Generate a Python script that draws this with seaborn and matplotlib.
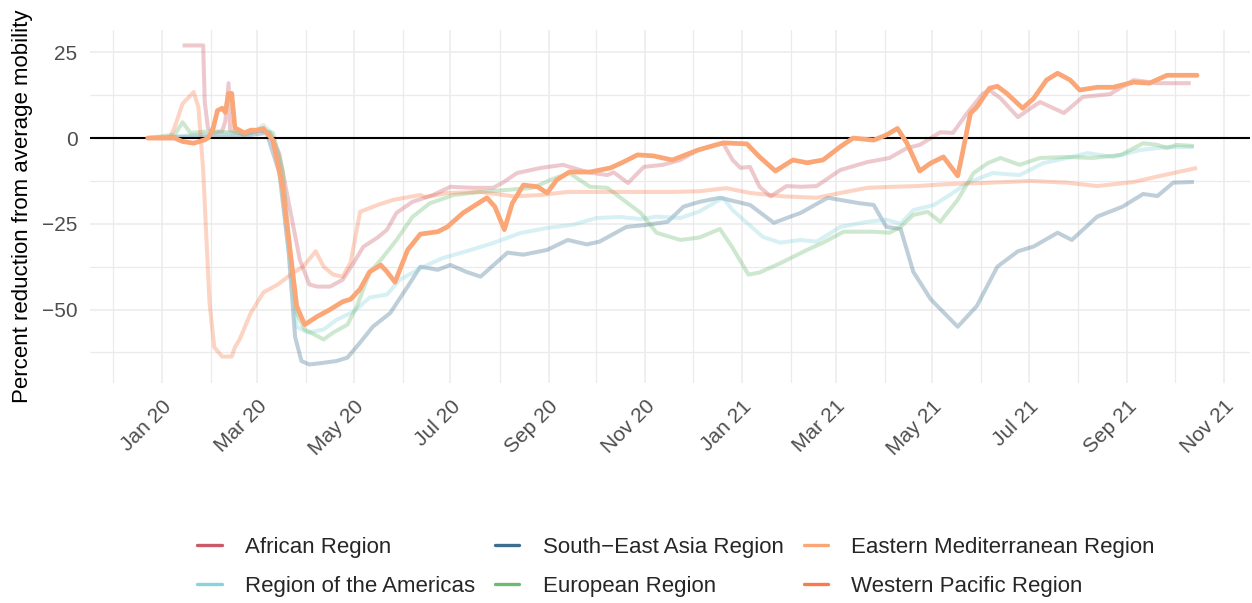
import numpy as np
import pandas as pd
import matplotlib
matplotlib.use("Agg")
import matplotlib.pyplot as plt
import matplotlib.dates as mdates
from matplotlib.lines import Line2D
from matplotlib.ticker import FixedLocator
import seaborn as sns

# ---------------- data (days since 2020-01-01, percent change) ----------------
start = pd.Timestamp("2020-01-01")

regions = ["African Region", "South\u2212East Asia Region", "Eastern Mediterranean Region",
           "Region of the Americas", "European Region", "Western Pacific Region"]
colors = ["#CB5A68", "#3B6E8F", "#FBA676", "#88D3DD", "#6CBB70", "#F97B4B"]
highlight = "Eastern Mediterranean Region"

afr_days = [13, 26, 27, 29, 33, 38, 40, 42, 43, 52, 62, 68, 74, 80, 87, 93, 98, 106, 114, 121, 127, 136,
            142, 148, 158, 171, 182, 196, 209, 215, 224, 239, 253, 268, 281, 285, 294, 304, 316, 327, 338,
            354, 360, 365, 371, 377, 384, 394, 403, 413, 428, 445, 459, 470, 478, 491, 499, 508, 518, 522,
            529, 540, 548, 554, 569, 581, 598, 613, 628, 649]
afr_vals = [27, 27, 10.5, 3, 1.5, 2, 5, 16, 2.3, 1, 2.3, 1.5, -4.5, -19, -35.5, -42.7, -43.3, -43.3, -41.3,
            -36.3, -31.7, -29, -26.7, -21.8, -18.6, -16.6, -14.2, -14.5, -14.5, -13, -10.2, -8.7, -7.8,
            -9.9, -10.8, -10, -13.1, -8.4, -7.8, -6.4, -3.5, -1.5, -6.4, -8.7, -8.4, -14.2, -17, -14, -14.2,
            -14, -9.3, -7, -5.8, -2.9, -2, 1.7, 1.5, 7.3, 13, 14, 11.6, 6.1, 8.7, 10.5, 7.3, 12, 12.8, 16.9,
            16, 16]

sea_days = [-9, 24, 49, 66, 74, 80, 84, 88, 93, 102, 110, 117, 125, 133, 144, 155, 163, 174, 182, 192, 201,
            218, 228, 243, 256, 268, 276, 293, 306, 319, 329, 339, 352, 371, 386, 403, 420, 440, 449, 457,
            466, 474, 485, 502, 514, 527, 540, 550, 565, 574, 590, 606, 619, 628, 638, 651]
sea_vals = [0, 0.5, 0.5, 1.5, -10, -33.5, -58, -65, -66, -65.5, -65, -64, -59.6, -55, -51, -43.3, -37.5,
            -38.4, -37, -39, -40.4, -33.4, -34, -32.6, -29.7, -31, -30.2, -25.9, -25.3, -24.4, -20, -18.6,
            -17.4, -19.5, -24.7, -21.8, -17.4, -19, -19.5, -25.9, -26.5, -39, -47, -55, -49, -37.5, -33,
            -31.6, -27.6, -29.7, -22.9, -20, -16.3, -16.9, -13, -12.8]

emr_days = [-9, 8, 13, 20, 27, 29, 32, 35, 38, 40, 42, 44, 46, 52, 56, 60, 64, 70, 76, 81, 85, 90, 98, 106,
            114, 119, 125, 131, 138, 142, 147, 155, 163, 174, 180, 190, 205, 210, 216, 221, 228, 237, 243,
            249, 257, 270, 283, 291, 300, 310, 322, 338, 354, 369, 377, 387, 398, 407, 417, 428, 436, 449,
            457, 464, 470, 478, 485, 493, 502, 505, 510, 514, 522, 527, 533, 543, 550, 558, 565, 573, 579,
            590, 600, 613, 623, 634, 653]
emr_vals = [0, 0, -1, -1.5, -0.5, 0, 2.3, 8, 8.7, 7.5, 13, 13, 3, 1.5, 2.3, 2.3, 2.8, -0.6, -14, -33.5, -49,
            -54.4, -52, -50, -47.7, -47, -44, -39, -37, -39, -42, -32.6, -28, -27.3, -25.9, -21.8, -17.4,
            -20, -26.7, -19, -13.7, -14.2, -16, -12.2, -9.9, -9.9, -8.7, -7, -4.9, -5.2, -6.4, -3.5, -1.4,
            -1.7, -5.5, -9.6, -6.4, -7.2, -6.4, -2.5, 0, -0.6, 0.9, 2.8, -1.5, -9.6, -7.3, -5.5, -11, -4.4,
            7.2, 9, 14.5, 15.1, 13, 8.7, 11.6, 16.9, 18.9, 16.9, 14, 14.8, 14.8, 16.3, 16, 18.3, 18.3]

amr_days = [-9, 24, 49, 56, 64, 68, 74, 81, 85, 92, 102, 110, 121, 131, 142, 150, 165, 177, 192, 209, 226,
            243, 259, 274, 289, 302, 312, 327, 339, 354, 360, 369, 379, 390, 403, 413, 428, 445, 457, 466,
            474, 487, 497, 508, 524, 541, 556, 571, 584, 600, 617, 634, 651]
amr_vals = [0, 1, 1.5, 1, 3.8, 2, -6, -38, -55, -56.7, -55.8, -53, -50.6, -46.5, -45.6, -41.3, -37.5, -35,
            -33, -30.6, -27.7, -26.2, -25.3, -23.3, -23, -23.6, -22.9, -23.3, -21.4, -17.4, -21, -24.7,
            -28.8, -30.5, -29.7, -30.2, -25.9, -24.4, -23.8, -25, -21, -19.5, -16.6, -13.1, -10.2, -10.8,
            -7.3, -5.8, -4.4, -5.5, -3.5, -2.6, -2.6]

eur_days = [-9, 8, 13, 18, 30, 49, 62, 70, 76, 81, 85, 90, 102, 108, 117, 123, 131, 139, 148, 158, 169, 184,
            201, 218, 234, 245, 257, 270, 281, 291, 302, 312, 327, 339, 352, 360, 370, 377, 390, 407, 417,
            430, 449, 459, 466, 474, 483, 491, 502, 512, 521, 529, 541, 554, 571, 587, 605, 619, 628, 634,
            640, 651]
eur_vals = [0, 1, 4.6, 1.5, 2, 1.5, 2.5, 1.5, -9.3, -33.5, -51, -55.8, -58.7, -56.7, -54.4, -49, -39.2, -35,
            -29.7, -23, -19, -16.6, -15.7, -15.1, -14.5, -12.2, -10.2, -14.2, -14.5, -18, -21.8, -27.6,
            -29.7, -29, -26.5, -32, -39.8, -39.2, -36.5, -32.6, -30.5, -27.3, -27.3, -27.6, -25.9, -22.4,
            -21.5, -24.4, -18, -10.2, -7.3, -5.8, -7.8, -5.8, -5.5, -5.8, -4.9, -1.5, -2, -2.9, -2, -2.3]

wpr_days = [-9, 5, 8, 13, 20, 23, 26, 28, 30, 33, 38, 44, 46, 49, 56, 64, 73, 83, 89, 97, 102, 108, 114,
            119, 125, 136, 146, 163, 166, 180, 201, 222, 239, 256, 276, 297, 322, 339, 356, 371, 392, 413,
            428, 445, 461, 476, 497, 518, 548, 571, 590, 613, 630, 653]
wpr_vals = [0, 0, 3.2, 10, 13.4, 9, -9.3, -28.8, -48, -61, -63.7, -63.7, -61, -58.7, -51, -45, -42.7, -39.2,
            -37.5, -33, -37.5, -39.8, -40.4, -36.3, -21.5, -19.5, -18, -16.6, -17.2, -16, -15.7, -17, -16.6,
            -15.7, -15.7, -15.7, -15.7, -15.5, -14.6, -16, -17, -17.4, -16, -14.5, -14.2, -14, -13.4, -13.1,
            -12.5, -13, -14, -12.8, -11, -8.7]

series_days = [afr_days, sea_days, emr_days, amr_days, eur_days, wpr_days]
series_vals = [afr_vals, sea_vals, emr_vals, amr_vals, eur_vals, wpr_vals]

x_breaks = pd.date_range("2020-01-01", "2021-11-01", freq="2MS")
y_breaks = [-50, -25, 0, 25]

# ---------------- build long table ----------------
frames = []
for r, d, v in zip(regions, series_days, series_vals):
    frames.append(pd.DataFrame({"region": r,
                                "date": start + pd.to_timedelta(d, unit="D"),
                                "value": v}))
df = pd.concat(frames, ignore_index=True)
palette = dict(zip(regions, colors))

# ---------------- style ----------------
sns.set_theme(style="white")
plt.rcParams["font.family"] = ["Liberation Sans", "DejaVu Sans"]

fig = plt.figure(figsize=(12.52, 6.03), dpi=100)
ax = fig.add_axes([90 / 1252, 1 - 383 / 603, 1160 / 1252, 353 / 603])

faint = df[df["region"] != highlight]
sns.lineplot(data=faint, x="date", y="value", hue="region", palette=palette,
             hue_order=[r for r in regions if r != highlight],
             estimator=None, alpha=0.33, linewidth=2.9, legend=False, ax=ax, zorder=2)
for ln in ax.get_lines():
    ln.set_solid_joinstyle("round")
    ln.set_solid_capstyle("butt")
ax.axhline(0, color="black", linewidth=1.5, zorder=3)
sns.lineplot(data=df[df["region"] == highlight], x="date", y="value",
             color=palette[highlight], estimator=None, linewidth=3.4, legend=False, ax=ax, zorder=4)
ax.get_lines()[-1].set_solid_joinstyle("round")

# axes limits
ax.set_xlim(start - pd.Timedelta(days=45.4), start + pd.Timedelta(days=686.4))
ax.set_ylim(-71.4, 31.5)

# ticks / grid
ax.xaxis.set_major_locator(FixedLocator(mdates.date2num(x_breaks)))
ax.xaxis.set_major_formatter(mdates.DateFormatter("%b %y"))
ax.xaxis.set_minor_locator(mdates.MonthLocator(bymonth=[2, 4, 6, 8, 10, 12]))
ax.yaxis.set_major_locator(FixedLocator(y_breaks))
ax.yaxis.set_minor_locator(FixedLocator([-62.5, -37.5, -12.5, 12.5]))
ax.grid(which="major", color="#EBEBEB", linewidth=1.1, zorder=0)
ax.grid(which="minor", color="#EBEBEB", linewidth=0.9, zorder=0)
ax.set_axisbelow(True)
for s in ax.spines.values():
    s.set_visible(False)
ax.tick_params(axis="both", which="both", length=0)
ax.tick_params(axis="y", labelsize=15, labelcolor="#4D4D4D", pad=9)
ax.tick_params(axis="x", labelsize=15, labelcolor="#4D4D4D", pad=10)
for lab in ax.get_xticklabels():
    lab.set_rotation(45)
    lab.set_ha("right")
    lab.set_va("top")
    lab.set_rotation_mode("anchor")

ax.set_xlabel("")
ax.set_ylabel("Percent reduction from average mobility", fontsize=16, color="black")
ax.yaxis.set_label_coords(-0.049, 0.5)

# legend (row-wise order like ggplot: 3 columns)
handles = [Line2D([0], [0], color=c, lw=2.4) for c in colors]
order = [0, 3, 1, 4, 2, 5]
fig.legend([handles[i] for i in order], [regions[i] for i in order],
           loc="center", bbox_to_anchor=(676 / 1252, 1 - 567 / 603), ncol=3, frameon=False,
           fontsize=16, handlelength=1.1, handletextpad=1.05, columnspacing=0.9, labelspacing=0.8)

fig.savefig("out.png", dpi=100)
